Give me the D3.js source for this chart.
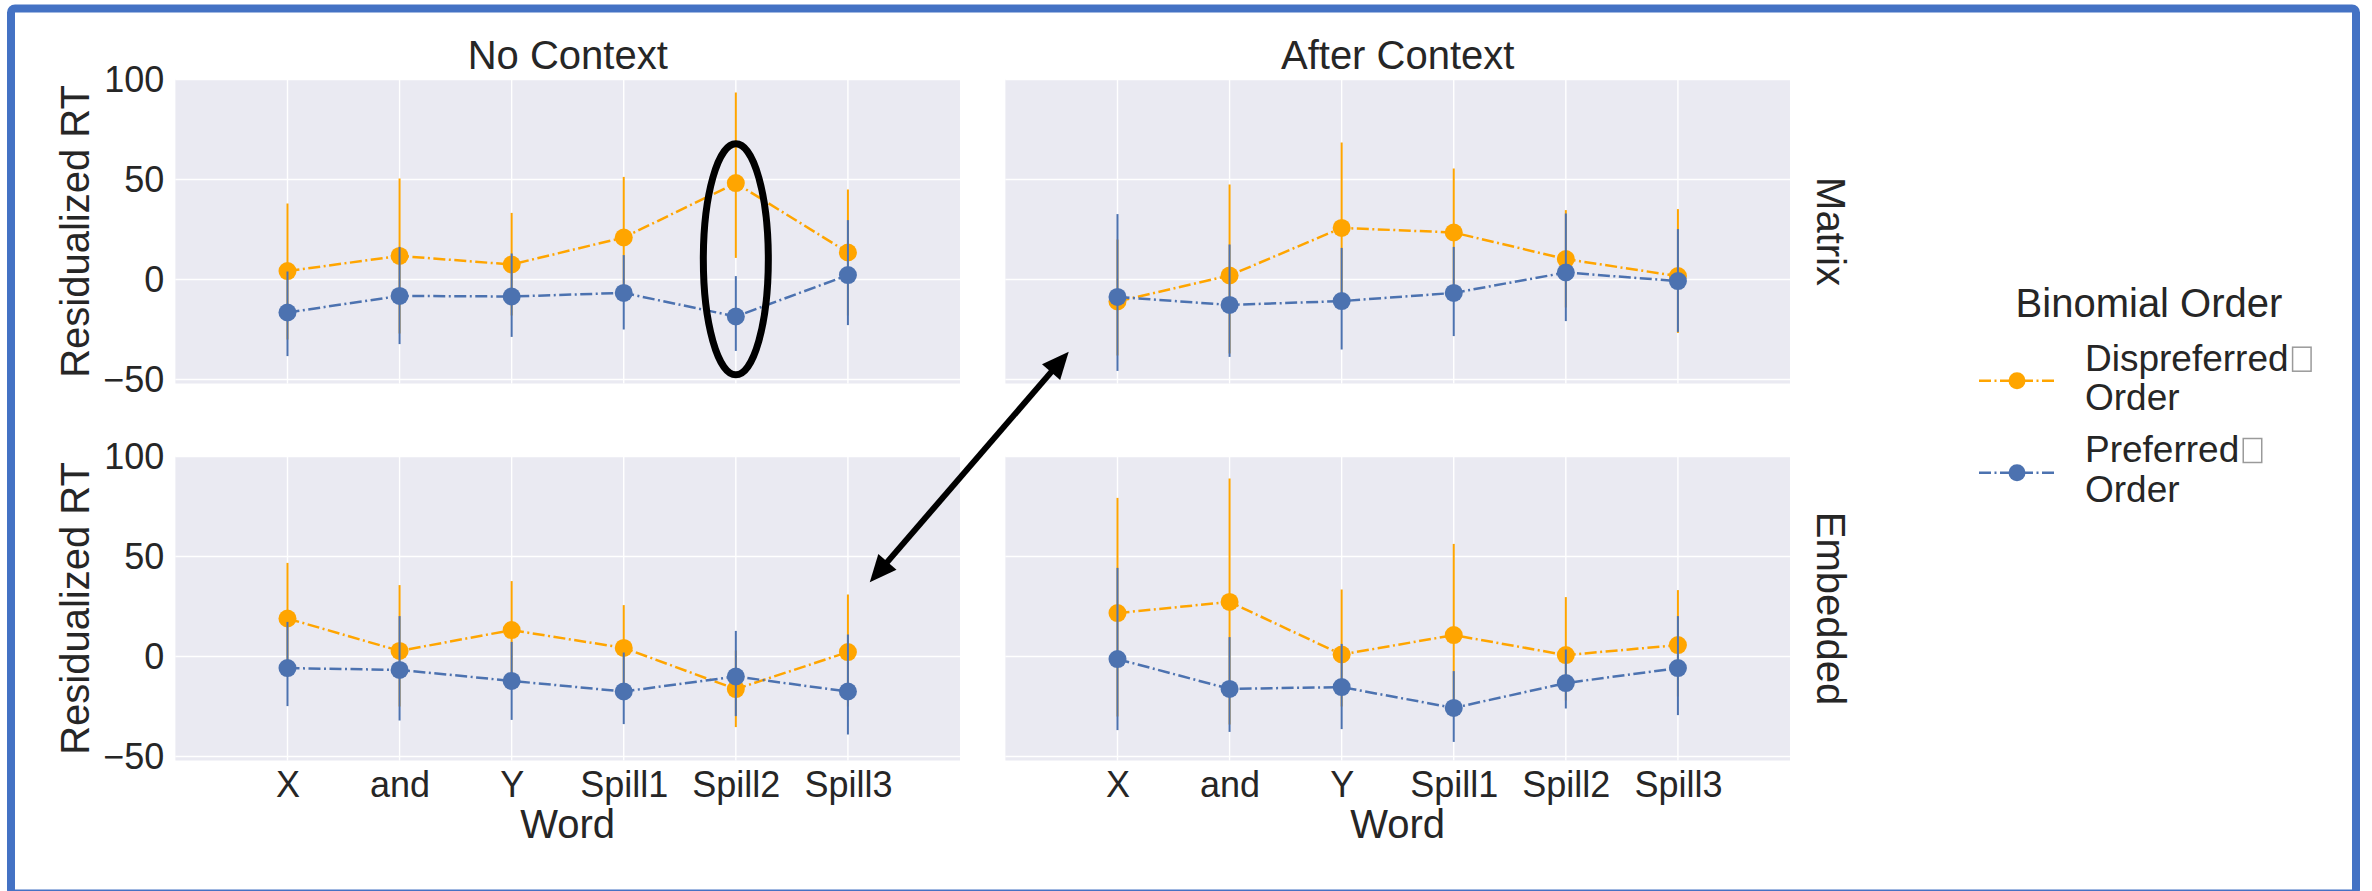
<!DOCTYPE html>
<html><head><meta charset="utf-8">
<script src="https://cdn.jsdelivr.net/npm/d3@7"></script>
<style>html,body{margin:0;padding:0;background:#fff;}svg{display:block;font-family:"Liberation Sans",Arial,sans-serif;}</style>
</head><body>
<svg id="chart" width="2372" height="891"></svg>
<script>
// ---------- data ----------
const words = ["X", "and", "Y", "Spill1", "Spill2", "Spill3"];
const contexts = ["No Context", "After Context"];
const positions = ["Matrix", "Embedded"];
const orders = ["Dispreferred\u2028Order", "Preferred\u2028Order"];
const orderLines = [["Dispreferred", "Order"], ["Preferred", "Order"]];
const yTicks = [-50, 0, 50, 100];

// No Context – Matrix
const ncMatDispMean = [4.2, 11.8, 7.5, 21, 48.2, 13.5];
const ncMatDispLo   = [-30, -27, -18, -9, 10.8, -18];
const ncMatDispHi   = [38, 50.5, 33.3, 51.3, 93.5, 45];
const ncMatPrefMean = [-16.5, -8.2, -8.5, -6.7, -18.5, 2.2];
const ncMatPrefLo   = [-38.3, -32.3, -28.7, -25, -35.7, -22.8];
const ncMatPrefHi   = [4, 16.3, 13, 12.2, 1.7, 29.7];
// After Context – Matrix
const acMatDispMean = [-11, 2, 25.8, 23.5, 10.2, 1.7];
const acMatDispLo   = [-38, -37, -14, -9, -14, -26.7];
const acMatDispHi   = [20, 47.5, 68.5, 55.5, 34.7, 35.2];
const acMatPrefMean = [-8.7, -12.7, -10.8, -6.7, 3.5, -0.8];
const acMatPrefLo   = [-45.7, -38.7, -35, -28.3, -20.8, -26.2];
const acMatPrefHi   = [32.7, 17.5, 15.8, 16.3, 33, 25.2];
// No Context – Embedded
const ncEmbDispMean = [19, 2.8, 13.2, 4.3, -16.3, 2.2];
const ncEmbDispLo   = [-10, -25, -11, -16, -35.3, -25];
const ncEmbDispHi   = [46.8, 35.7, 37.7, 25.7, 3, 31];
const ncEmbPrefMean = [-5.8, -6.7, -12.2, -17.5, -10, -17.5];
const ncEmbPrefLo   = [-24.8, -32, -31.7, -33.8, -29.8, -39];
const ncEmbPrefHi   = [17.3, 20.2, 7.3, 2, 12.8, 11];
// After Context – Embedded
const acEmbDispMean = [21.7, 27.3, 1, 10.7, 0.7, 5.7];
const acEmbDispLo   = [-30, -34, -25, -30, -22, -20];
const acEmbDispHi   = [79.3, 89, 33.5, 56.3, 29.7, 33.2];
const acEmbPrefMean = [-1.3, -16.2, -15.3, -25.7, -13.3, -5.8];
const acEmbPrefLo   = [-36.8, -37.7, -36.3, -42.7, -26, -29.3];
const acEmbPrefHi   = [44.3, 9.7, 6.3, -7.3, 3.5, 20.2];

const panelData = {
  "Matrix|No Context": [[ncMatDispMean, ncMatDispLo, ncMatDispHi], [ncMatPrefMean, ncMatPrefLo, ncMatPrefHi]],
  "Matrix|After Context": [[acMatDispMean, acMatDispLo, acMatDispHi], [acMatPrefMean, acMatPrefLo, acMatPrefHi]],
  "Embedded|No Context": [[ncEmbDispMean, ncEmbDispLo, ncEmbDispHi], [ncEmbPrefMean, ncEmbPrefLo, ncEmbPrefHi]],
  "Embedded|After Context": [[acEmbDispMean, acEmbDispLo, acEmbDispHi], [acEmbPrefMean, acEmbPrefLo, acEmbPrefHi]]
};
const colors = ["#FFA500", "#4C72B0"];

// ---------- layout ----------
const svg = d3.select("#chart");
const textColor = "#262626";
const colX = [175.4, 1005.4], panelW = 784.6;
const rowY = [79.5, 456.5], panelH = 304;
const dash = "12,3.5,2,3.5";

const xScales = colX.map(x0 => d3.scaleLinear().domain([-1, 6]).range([x0, x0 + panelW]));
const yScales = rowY.map(y0 => d3.scaleLinear().domain([-52, 100]).range([y0 + panelH, y0]));

// outer frame
svg.append("rect").attr("x", 11).attr("y", 8.5).attr("width", 2345).attr("height", 885)
  .attr("rx", 4).attr("fill", "none").attr("stroke", "#4472C4").attr("stroke-width", 8);

positions.forEach((pos, r) => {
  contexts.forEach((ctx, c) => {
    const xs = xScales[c], ys = yScales[r];
    const g = svg.append("g");
    g.append("rect").attr("x", xs.range()[0]).attr("y", ys.range()[1])
      .attr("width", panelW).attr("height", panelH).attr("fill", "#EAEAF2");
    // grid
    g.selectAll(".gy").data(yTicks).join("line")
      .attr("x1", xs.range()[0]).attr("x2", xs.range()[1])
      .attr("y1", d => ys(d)).attr("y2", d => ys(d))
      .attr("stroke", "#fff").attr("stroke-width", 1.6);
    g.selectAll(".gx").data(words).join("line")
      .attr("x1", (d, i) => xs(i)).attr("x2", (d, i) => xs(i))
      .attr("y1", ys.range()[0]).attr("y2", ys.range()[1])
      .attr("stroke", "#fff").attr("stroke-width", 1.4);

    // y axis (left column)
    if (c === 0) {
      const ay = d3.axisLeft(ys).tickValues(yTicks).tickSize(0).tickPadding(11);
      const ga = svg.append("g").attr("transform", `translate(${xs.range()[0]},0)`).call(ay);
      ga.select(".domain").remove();
      ga.selectAll("text").attr("font-size", 36).attr("fill", textColor)
        .attr("font-family", "Liberation Sans, Arial, sans-serif");
      svg.append("text").attr("transform", `translate(89,${(ys.range()[0] + ys.range()[1]) / 2}) rotate(-90)`)
        .attr("text-anchor", "middle").attr("font-size", 40).attr("fill", textColor).text("Residualized RT");
    }
    // x axis (bottom row)
    if (r === 1) {
      const band = d3.scalePoint().domain(words).range([xs(0), xs(5)]);
      const ax = d3.axisBottom(band).tickSize(0).tickPadding(0);
      const ga = svg.append("g").attr("transform", `translate(0,${ys.range()[0]})`).call(ax);
      ga.select(".domain").remove();
      ga.selectAll("text").attr("font-size", 36).attr("fill", textColor).attr("dy", null)
        .attr("y", 36).attr("font-family", "Liberation Sans, Arial, sans-serif");
      svg.append("text").attr("x", (xs.range()[0] + xs.range()[1]) / 2).attr("y", 838)
        .attr("text-anchor", "middle").attr("font-size", 40).attr("fill", textColor).text("Word");
    }
    // column titles
    if (r === 0) {
      svg.append("text").attr("x", (xs.range()[0] + xs.range()[1]) / 2).attr("y", 69)
        .attr("text-anchor", "middle").attr("font-size", 40).attr("fill", textColor).text(ctx);
    }
    // row labels
    if (c === 1) {
      svg.append("text").attr("transform", `translate(1817,${(ys.range()[0] + ys.range()[1]) / 2}) rotate(90)`)
        .attr("text-anchor", "middle").attr("font-size", 40).attr("fill", textColor).text(pos);
    }

    // series
    panelData[pos + "|" + ctx].forEach((s, k) => {
      const [mean, lo, hi] = s;
      const pts = words.map((w, i) => ({ i, m: mean[i], lo: lo[i], hi: hi[i] }));
      const sg = g.append("g");
      sg.selectAll(".err").data(pts).join("line")
        .attr("x1", d => xs(d.i)).attr("x2", d => xs(d.i))
        .attr("y1", d => ys(d.lo)).attr("y2", d => ys(d.hi))
        .attr("stroke", colors[k]).attr("stroke-width", 2);
      sg.append("path").datum(pts)
        .attr("d", d3.line().x(d => xs(d.i)).y(d => ys(d.m)))
        .attr("fill", "none").attr("stroke", colors[k]).attr("stroke-width", 2.5)
        .attr("stroke-dasharray", dash);
      sg.selectAll(".pt").data(pts).join("circle")
        .attr("cx", d => xs(d.i)).attr("cy", d => ys(d.m)).attr("r", 9)
        .attr("fill", colors[k]);
    });
  });
});

// ---------- annotations ----------
const xsL = xScales[0], ysT = yScales[0], xsR = xScales[1], ysB = yScales[1];
// ellipse around Spill2 (No Context, Matrix)
svg.append("ellipse").attr("cx", xsL(4)).attr("cy", ysT(10.1))
  .attr("rx", 32.5).attr("ry", 115.5).attr("fill", "none").attr("stroke", "#000").attr("stroke-width", 7);

// double-headed arrow
const p1 = [xsR(-0.435), ysT(-36.1)], p2 = [xsL(5.195), ysB(37.1)];
const ang = Math.atan2(p2[1] - p1[1], p2[0] - p1[0]);
const headL = 27, headW = 12;
const ux = Math.cos(ang), uy = Math.sin(ang);
svg.append("line")
  .attr("x1", p1[0] + ux * (headL - 2)).attr("y1", p1[1] + uy * (headL - 2))
  .attr("x2", p2[0] - ux * (headL - 2)).attr("y2", p2[1] - uy * (headL - 2))
  .attr("stroke", "#000").attr("stroke-width", 6);
function head(tip, dir) {
  const bx = tip[0] + dir * ux * headL, by = tip[1] + dir * uy * headL;
  return [tip, [bx - uy * headW, by + ux * headW], [bx + uy * headW, by - ux * headW]];
}
[head(p1, 1), head(p2, -1)].forEach(h => {
  svg.append("polygon").attr("points", h.map(p => p.join(",")).join(" ")).attr("fill", "#000");
});

// ---------- legend ----------
const lg = svg.append("g");
lg.append("text").attr("x", 2149).attr("y", 317).attr("text-anchor", "middle")
  .attr("font-size", 40).attr("fill", textColor).text("Binomial Order");
const legY = [380.7, 472.7];
const legBase = [[370.7, 409.5], [462, 501.5]];
orders.forEach((o, k) => {
  lg.append("line").attr("x1", 1979).attr("x2", 2054).attr("y1", legY[k]).attr("y2", legY[k])
    .attr("stroke", colors[k]).attr("stroke-width", 2.5).attr("stroke-dasharray", dash);
  lg.append("circle").attr("cx", 2017).attr("cy", legY[k]).attr("r", 8.5).attr("fill", colors[k]);
  const t1 = lg.append("text").attr("x", 2085).attr("y", legBase[k][0]).attr("font-size", 37)
    .attr("fill", textColor).text(orderLines[k][0]);
  lg.append("text").attr("x", 2085).attr("y", legBase[k][1]).attr("font-size", 37)
    .attr("fill", textColor).text(orderLines[k][1]);
  const w = t1.node().getComputedTextLength();
  lg.append("rect").attr("x", 2085 + w + 4).attr("y", legBase[k][0] - 23.5)
    .attr("width", 18.5).attr("height", 24).attr("fill", "none").attr("stroke", "#9a9a9a").attr("stroke-width", 1.5);
});
</script>
</body></html>
